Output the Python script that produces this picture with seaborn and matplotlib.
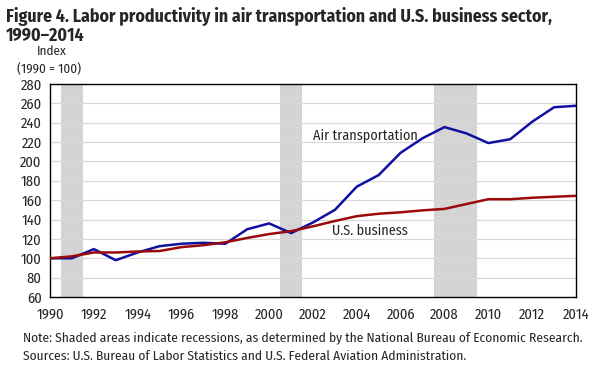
import pandas as pd
import seaborn as sns
import matplotlib.pyplot as plt

years = list(range(1990, 2015))
air = [100, 100, 109.5, 98, 106, 112.5, 115, 116, 115, 130, 136, 126, 137,
       150, 174, 186, 209, 224, 235.5, 229, 219, 223, 241, 256, 257.5]
business = [100, 102, 106, 106, 107, 107.5, 111.5, 113.5, 116.5, 121, 125, 128, 133,
            138.5, 143.5, 146, 147.5, 149.5, 151, 156, 161, 161, 162.5, 163.5, 164.5]
recessions = [(1990.5, 1991.5), (2000.5, 2001.5), (2007.5, 2009.5)]

df = pd.DataFrame({"year": years * 2,
                   "value": air + business,
                   "series": ["Air transportation"] * len(years) + ["U.S. business"] * len(years)})

sns.set_style("white")
plt.rcParams["font.family"] = ["Fira Sans Condensed", "DejaVu Sans"]

fig = plt.figure(figsize=(6.04, 3.73), dpi=100)
ax = fig.add_axes([50 / 604, 76 / 373, 526 / 604, 213 / 373])

# recession bars and gridlines
for a, b in recessions:
    ax.axvspan(a, b, color="#d4d4d4", lw=0, zorder=0)
for v in range(80, 281, 20):
    ax.axhline(v, color="#d9d9d9", lw=0.9, zorder=0.5)

sns.lineplot(data=df, x="year", y="value", hue="series",
             palette={"Air transportation": "#1010a0", "U.S. business": "#9a0a0a"},
             linewidth=1.8, legend=False, ax=ax, zorder=3)

ax.set_xlim(1990, 2014)
ax.set_ylim(60, 280)
ax.set_xticks(range(1990, 2015, 2))
ax.set_xticks(range(1990, 2015), minor=True)
ax.set_yticks(range(60, 281, 20))
ax.tick_params(axis="x", which="both", direction="in", length=4, width=1, color="black",
               labelsize=10.5, pad=8)
ax.tick_params(axis="y", length=0, labelsize=10.5, pad=6)
ax.set_xlabel("")
ax.set_ylabel("")
for s in ax.spines.values():
    s.set_color("black")
    s.set_linewidth(1)

ax.text(2004.4, 227, "Air transportation", fontsize=10.2, ha="center", va="center")
ax.text(2004.6, 128, "U.S. business", fontsize=10.2, ha="center", va="center")

fig.text(6 / 604, 1 - 16 / 373, "Figure 4. Labor productivity in air transportation and U.S. business sector,",
         fontsize=12.8, fontweight="bold", va="center")
fig.text(6 / 604, 1 - 36 / 373, "1990\u20132014", fontsize=12.8, fontweight="bold", va="center")
fig.text(52 / 604, 1 - 51 / 373, "Index", fontsize=9.5, ha="center", va="center")
fig.text(49 / 604, 1 - 69 / 373, "(1990 = 100)", fontsize=9.5, ha="center", va="center")
fig.text(23 / 604, 1 - 338 / 373,
         "Note: Shaded areas indicate recessions, as determined by the National Bureau of Economic Research.",
         fontsize=9.7, va="center")
fig.text(23 / 604, 1 - 356 / 373,
         "Sources: U.S. Bureau of Labor Statistics and U.S. Federal Aviation Administration.",
         fontsize=9.7, va="center")

fig.savefig("out.png", dpi=100)
